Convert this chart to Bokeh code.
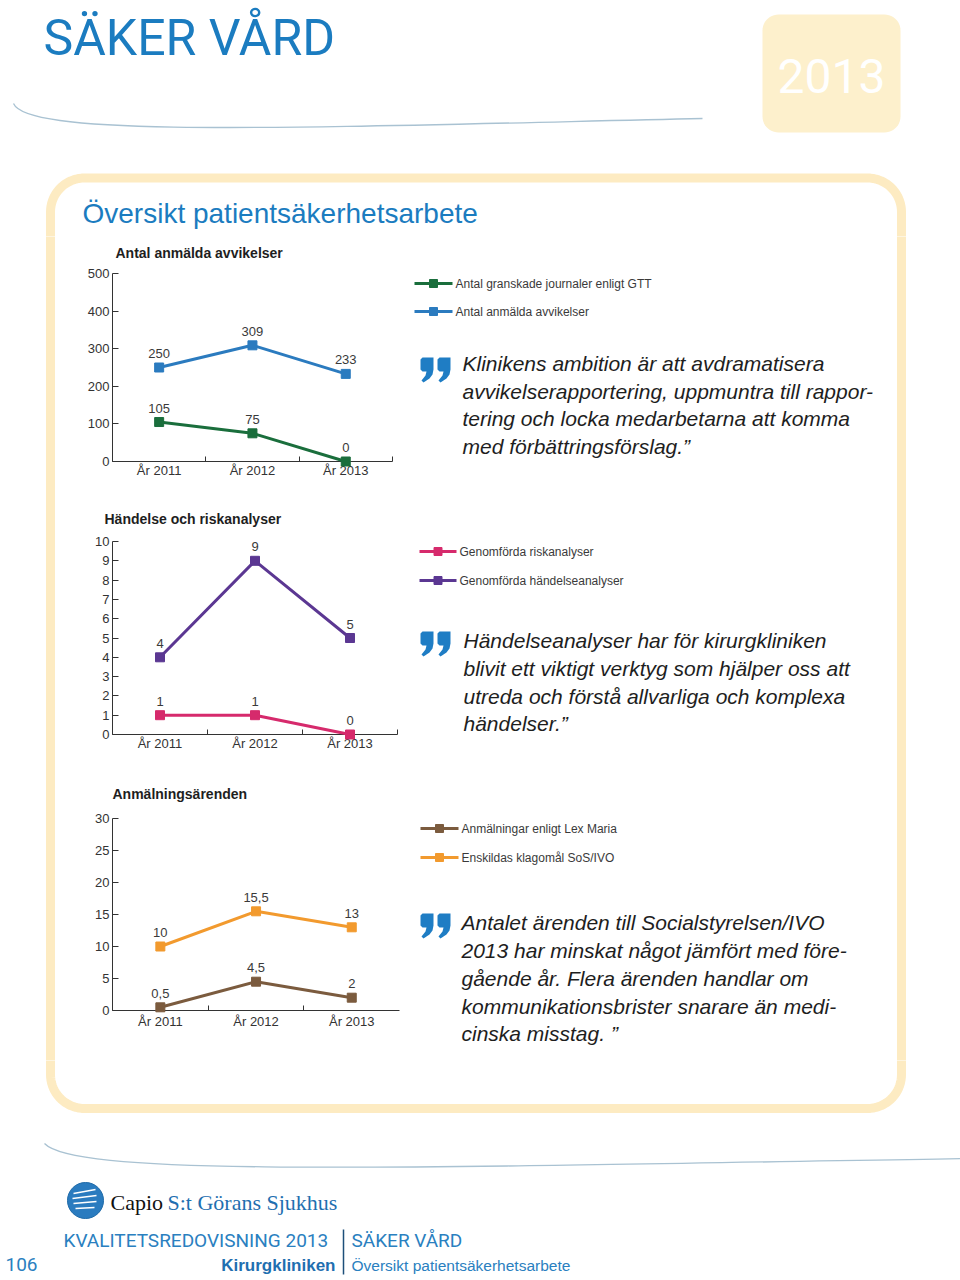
import numpy as np
from bokeh.plotting import figure
from bokeh.models import Range1d, FixedTicker, LabelSet, ColumnDataSource
from bokeh.layouts import column, row
from bokeh.core.properties import value
from bokeh.embed import file_html
from bokeh.resources import INLINE

# ---------------- data ----------------
years = ["År 2011", "År 2012", "År 2013"]

chart1_title = "Antal anmälda avvikelser"
gtt_journaler = [105, 75, 0]
anmalda_avvikelser = [250, 309, 233]
chart1_ticks = [0, 100, 200, 300, 400, 500]
chart1_names = ["Antal granskade journaler enligt GTT", "Antal anmälda avvikelser"]

chart2_title = "Händelse och riskanalyser"
riskanalyser = [1, 1, 0]
handelseanalyser = [4, 9, 5]
chart2_ticks = [0, 1, 2, 3, 4, 5, 6, 7, 8, 9, 10]
chart2_names = ["Genomförda riskanalyser", "Genomförda händelseanalyser"]

chart3_title = "Anmälningsärenden"
lex_maria = [0.5, 4.5, 2]
klagomal = [10, 15.5, 13]
chart3_ticks = [0, 5, 10, 15, 20, 25, 30]
chart3_names = ["Anmälningar enligt Lex Maria", "Enskildas klagomål SoS/IVO"]

quote1 = ["Klinikens ambition är att avdramatisera",
          "avvikelserapportering, uppmuntra till rappor-",
          "tering och locka medarbetarna att komma",
          "med förbättringsförslag.\u201d"]
quote2 = ["Händelseanalyser har för kirurgkliniken",
          "blivit ett viktigt verktyg som hjälper oss att",
          "utreda och förstå allvarliga och komplexa",
          "händelser.\u201d"]
quote3 = ["Antalet ärenden till Socialstyrelsen/IVO",
          "2013 har minskat något jämfört med före-",
          "gående år. Flera ärenden handlar om",
          "kommunikationsbrister snarare än medi-",
          "cinska misstag. \u201d"]

# ---------------- styles ----------------
SANS = "Liberation Sans"
ROBOTO = "Roboto"
SERIF = "Liberation Serif"
BLUE_TXT = "#1b7cc0"
YELLOW = "#fdebc2"
C_GREEN = "#1a6e3c"
C_BLUE = "#2b7bbf"
C_PINK = "#d62a6c"
C_PURPLE = "#5b3792"
C_BROWN = "#7b5b3e"
C_ORANGE = "#f29a2e"
AX = "#333333"

# chart frame (page pixels) shared by the three charts (frames are aligned in a column)
FX0, FX1 = 112, 399


def deco(x0, x1, y0, y1, width=None):
    p = figure(width=width or (x1 - x0), height=y1 - y0, x_range=Range1d(x0, x1), y_range=Range1d(y1, y0),
               output_backend="svg", toolbar_location=None, min_border=0,
               x_axis_location=None, y_axis_location=None)
    p.grid.visible = False
    p.outline_line_color = None
    p.background_fill_color = "white"
    p.border_fill_color = "white"
    return p


def txt(p, x, y, s, size, color, font=SANS, style="normal", align="left", baseline="middle"):
    return p.text(x=[x], y=[y], text=[s], text_font=value(font), text_font_size=f"{size}px",
                  text_color=color, text_font_style=style, text_align=align, text_baseline=baseline)


def rounded_rect(x0, y0, x1, y1, r, n=12):
    xs, ys = [], []
    corners = [(x1 - r, y0 + r, np.pi / 2, 0), (x1 - r, y1 - r, 0, -np.pi / 2),
               (x0 + r, y1 - r, -np.pi / 2, -np.pi), (x0 + r, y0 + r, np.pi, np.pi / 2)]
    for cx, cy, a0, a1 in corners:
        t = np.linspace(a0, a1, n)
        xs += list(cx + r * np.cos(t))
        ys += list(cy - r * np.sin(t))
    return xs, ys


def arc(cx, cy, r, a0, a1, n=20):
    t = np.linspace(a0, a1, n)
    return list(cx + r * np.cos(t)), list(cy - r * np.sin(t))


def fmt(v):
    return f"{v:g}".replace(".", ",")


# box geometry (page pixels)
XL, XR, YT, YB, RB = 50, 901, 177.5, 1108, 34

# ---------------- header ----------------
top = deco(0, 960, 0, 236)
txt(top, 43, 37, "SÄKER VÅRD", 50, BLUE_TXT, font=ROBOTO)
bx, by = rounded_rect(762, 14, 900, 132, 16)
top.patch(bx, by, fill_color="#fdf0cc", line_color=None)
txt(top, 831, 75, "2013", 48, "white", font=ROBOTO, align="center")
top.bezier(x0=[13], y0=[103], x1=[702], y1=[118], cx0=[28], cy0=[138], cx1=[300], cy1=[127],
           line_color="#a9c2d2", line_width=1.3)
xs1, ys1 = arc(XL + RB, YT + RB, RB, np.pi, np.pi / 2)
xs2, ys2 = arc(XR - RB, YT + RB, RB, np.pi / 2, 0)
top.line([XL] + xs1 + xs2 + [XR], [240] + ys1 + ys2 + [240], line_width=9, line_color=YELLOW,
         line_join="round")
txt(top, 82, 213, "Översikt patientsäkerhetsarbete", 28, BLUE_TXT)

# ---------------- left strip ----------------
left = deco(0, 60, 236, 1060)
left.line([XL, XL], [230, 1066], line_width=9, line_color=YELLOW)


# ---------------- charts ----------------
def title_fig(title, x, y, y0, y1):
    t = deco(FX0, FX1, y0, y1, width=350)
    t.min_border_left = FX0 - 60
    t.min_border_right = 410 - FX1
    r = txt(t, x, y, title, 14, "#1e1e1e", style="bold")
    r.level = "overlay"
    return t


def chart(series, ticks, h, mtop, mbot, cat_px, xstand):
    n = len(years)
    xc = [i + 0.5 for i in range(n)]
    xend = (FX1 - FX0) / cat_px
    p = figure(width=350, height=h, x_range=Range1d(0, xend), y_range=Range1d(ticks[0], ticks[-1]),
               output_backend="svg", toolbar_location=None,
               min_border_left=FX0 - 60, min_border_right=410 - FX1,
               min_border_top=mtop, min_border_bottom=mbot)
    p.grid.visible = False
    p.outline_line_color = None
    p.background_fill_color = "white"
    p.border_fill_color = "white"

    xa = p.xaxis[0]
    xa.ticker = FixedTicker(ticks=xc, minor_ticks=list(range(n + 1)))
    xa.bounds = (0, n)
    xa.major_label_overrides = {x: y for x, y in zip(xc, years)}
    xa.major_tick_in = 0
    xa.major_tick_out = 0
    xa.minor_tick_in = 5
    xa.minor_tick_out = 0
    xa.minor_tick_line_color = AX
    xa.axis_line_color = AX
    xa.major_label_standoff = xstand
    xa.major_label_text_font = SANS
    xa.major_label_text_font_size = "13px"
    xa.major_label_text_color = AX

    ya = p.yaxis[0]
    ya.ticker = FixedTicker(ticks=ticks, minor_ticks=[])
    ya.major_tick_in = 6
    ya.major_tick_out = 0
    ya.major_tick_line_color = AX
    ya.axis_line_color = AX
    ya.major_label_standoff = 3
    ya.major_label_text_font = SANS
    ya.major_label_text_font_size = "13px"
    ya.major_label_text_color = AX

    for vals, color in series:
        src = ColumnDataSource(dict(x=xc, y=vals, lab=[fmt(v) for v in vals]))
        p.line("x", "y", source=src, line_width=3, line_color=color, level="overlay")
        p.scatter("x", "y", source=src, marker="square", size=9, fill_color=color,
                  line_color=color, level="overlay")
        p.add_layout(LabelSet(x="x", y="y", text="lab", source=src, y_offset=14,
                              text_align="center", text_baseline="middle",
                              text_font=value(SANS), text_font_size="13px", text_color="#3a3a3a"))
    return p


t1 = title_fig(chart1_title, 115, 252, 236, 262)
c1 = chart([(anmalda_avvikelser, C_BLUE), (gtt_journaler, C_GREEN)],
           chart1_ticks, 234, 11, 35, 93.3, 1)
t2 = title_fig(chart2_title, 104, 518, 496, 528)
c2 = chart([(handelseanalyser, C_PURPLE), (riskanalyser, C_PINK)],
           chart2_ticks, 244, 13, 38, 95.0, 1)
t3 = title_fig(chart3_title, 112, 793, 772, 805)
c3 = chart([(klagomal, C_ORANGE), (lex_maria, C_BROWN)],
           chart3_ticks, 255, 13, 50, 95.7, 3)

# ---------------- right side: legends + quotes ----------------
right = deco(410, 960, 236, 1060)
right.line([XR, XR], [230, 1066], line_width=9, line_color=YELLOW)

legends = [
    (283, 311, 414, 452, 455, chart1_names, [C_GREEN, C_BLUE]),
    (551, 580, 419, 456, 459, chart2_names, [C_PINK, C_PURPLE]),
    (828, 857, 420, 458, 461, chart3_names, [C_BROWN, C_ORANGE]),
]
for ya_, yb_, sx0, sx1, tx, names, cols in legends:
    for yy, nm, col in zip([ya_, yb_], names, cols):
        right.line([sx0, sx1], [yy, yy], line_width=3, line_color=col)
        right.scatter([(sx0 + sx1) / 2], [yy], marker="square", size=8, fill_color=col, line_color=col)
        txt(right, tx, yy, nm, 12, "#3a3a3a")

comma = [(2, 0), (13, 0), (13, 12), (12, 17), (9, 21), (3, 25), (1, 23), (5, 18), (6, 14),
         (2, 14), (0, 12), (0, 2)]
quotes = [(420, 357, 462, [363, 391, 418, 446], quote1),
          (420, 631, 463, [640, 668, 696, 723], quote2),
          (420, 913, 461, [922, 950, 978, 1006, 1033], quote3)]
for qx, qy, tx, lys, lines in quotes:
    for off in (0, 17):
        right.patch([qx + off + a for a, b in comma], [qy + b for a, b in comma],
                    fill_color="#1f7dc4", line_color=None)
    for yy, s in zip(lys, lines):
        txt(right, tx, yy, s, 21, "#1e1e1e", style="italic")

# ---------------- footer ----------------
bot = deco(0, 960, 1060, 1280)
xs3, ys3 = arc(XL + RB, YB - RB, RB, np.pi, 3 * np.pi / 2)
xs4, ys4 = arc(XR - RB, YB - RB, RB, 3 * np.pi / 2, 2 * np.pi)
bot.line([XL] + xs3 + xs4 + [XR], [1055] + ys3 + ys4 + [1055], line_width=9, line_color=YELLOW,
         line_join="round")
bot.bezier(x0=[44], y0=[1143], x1=[962], y1=[1158], cx0=[75], cy0=[1176], cx1=[380], cy1=[1168],
           line_color="#a9c2d2", line_width=1.3)
bot.scatter([85], [1200], marker="circle", size=36, fill_color="#2a7bbf", line_color="#1f6aa8")
bot.multi_line([[73, 95], [72, 96], [73, 96], [75, 94]],
               [[1193, 1189], [1198, 1195], [1203, 1201], [1208, 1207]],
               line_color="white", line_width=1.4)
txt(bot, 110, 1202, "Capio", 22, "#111111", font=SERIF)
txt(bot, 167, 1202, "S:t Görans Sjukhus", 22, "#1f6fb0", font=SERIF)
txt(bot, 63, 1240, "KVALITETSREDOVISNING 2013", 19, "#2a80c0", font=ROBOTO)
bot.line([343, 343], [1229, 1274], line_color="#1d4f7a", line_width=1.5)
txt(bot, 351, 1240, "SÄKER VÅRD", 19, "#2a80c0", font=ROBOTO)
txt(bot, 5, 1264, "106", 19, "#2a80c0", font=ROBOTO)
txt(bot, 335, 1265, "Kirurgkliniken", 17, "#1f6fb0", style="bold", align="right")
txt(bot, 351, 1265, "Översikt patientsäkerhetsarbete", 15.5, "#2a80c0")

layout = column(top, row(left, column(t1, c1, t2, c2, t3, c3), right), bot)
open("out.html", "w").write(file_html(layout, INLINE))
